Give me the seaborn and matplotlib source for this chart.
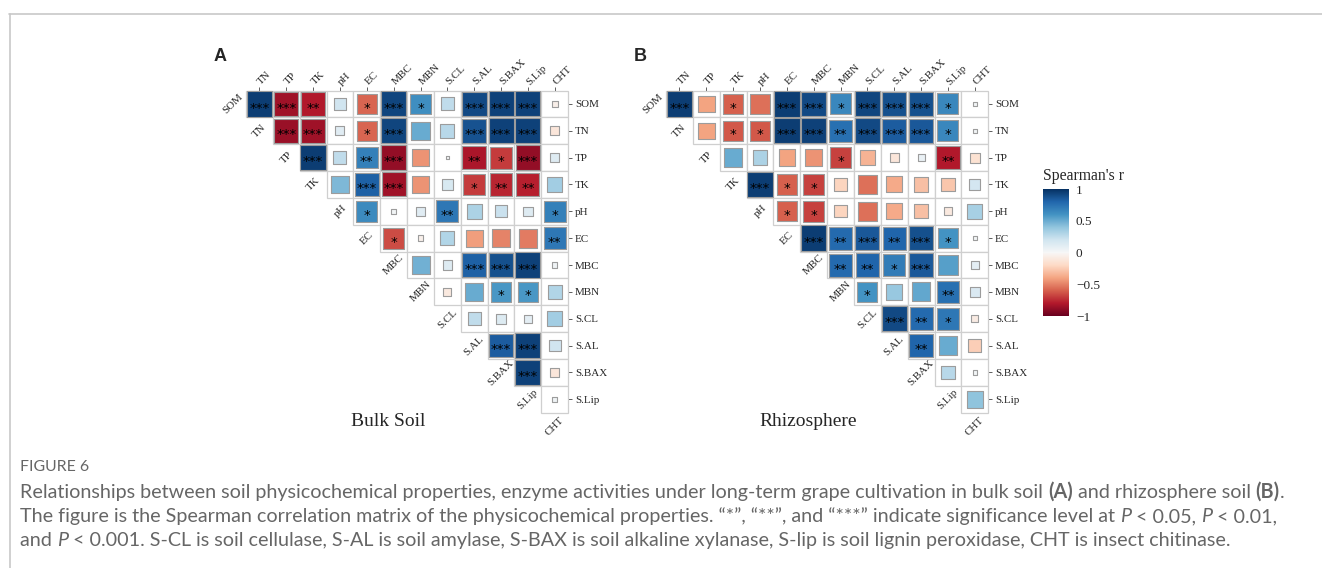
import numpy as np
import pandas as pd
import matplotlib
matplotlib.use("Agg")
import matplotlib.pyplot as plt
import seaborn as sns
from matplotlib.patches import Rectangle
from matplotlib.colors import Normalize
from matplotlib.cm import ScalarMappable
from matplotlib import font_manager

# ---------------- data ----------------
variables = ["SOM", "TN", "TP", "TK", "pH", "EC", "MBC", "MBN",
             "S.CL", "S.AL", "S.BAX", "S.Lip", "CHT"]

# row i: Spearman r of variables[i] with variables[i+1:]
bulk_r = [
    [0.95, -0.85, -0.80, 0.20, -0.58, 0.92, 0.62, 0.25, 0.90, 0.93, 0.93, -0.06],
    [-0.86, -0.85, 0.12, -0.58, 0.92, 0.50, 0.28, 0.87, 0.93, 0.93, -0.12],
    [0.95, 0.25, 0.68, -0.88, -0.45, 0.01, -0.82, -0.70, -0.88, 0.13],
    [0.45, 0.82, -0.85, -0.45, 0.16, -0.70, -0.76, -0.78, 0.35],
    [0.64, 0.03, 0.12, 0.72, 0.32, 0.22, 0.13, 0.68],
    [-0.65, -0.05, 0.30, -0.42, -0.50, -0.52, 0.72],
    [0.48, 0.13, 0.82, 0.88, 0.93, 0.04],
    [-0.10, 0.50, 0.58, 0.58, 0.30],
    [0.25, 0.14, 0.10, 0.35],
    [0.83, 0.93, 0.20],
    [0.93, -0.12],
    [0.04],
]
bulk_sig = [
    ["***", "***", "**", "", "*", "***", "*", "", "***", "***", "***", ""],
    ["***", "***", "", "*", "***", "", "", "***", "***", "***", ""],
    ["***", "", "**", "***", "", "", "**", "*", "***", ""],
    ["", "***", "***", "", "", "*", "**", "**", ""],
    ["*", "", "", "**", "", "", "", "*"],
    ["*", "", "", "", "", "", "**"],
    ["", "", "***", "***", "***", ""],
    ["", "", "*", "*", ""],
    ["", "", "", ""],
    ["***", "***", ""],
    ["***", ""],
    [""],
]

rhizo_r = [
    [0.95, -0.40, -0.60, -0.55, 0.95, 0.90, 0.65, 0.92, 0.88, 0.88, 0.65, 0.03],
    [-0.40, -0.62, -0.62, 0.95, 0.93, 0.75, 0.90, 0.83, 0.85, 0.65, 0.03],
    [0.50, 0.32, -0.40, -0.45, -0.68, -0.35, -0.12, 0.07, -0.80, -0.15],
    [0.95, -0.60, -0.68, -0.22, -0.55, -0.38, -0.30, -0.28, 0.18],
    [-0.60, -0.68, -0.22, -0.55, -0.38, -0.30, -0.10, 0.33],
    [0.95, 0.78, 0.85, 0.80, 0.88, 0.60, 0.03],
    [0.78, 0.80, 0.70, 0.85, 0.55, 0.10],
    [0.60, 0.38, 0.52, 0.75, 0.15],
    [0.90, 0.78, 0.72, -0.08],
    [0.80, 0.50, -0.25],
    [0.28, 0.03],
    [0.40],
]
rhizo_sig = [
    ["***", "", "*", "", "***", "***", "*", "***", "***", "***", "*", ""],
    ["", "*", "*", "***", "***", "**", "***", "***", "***", "*", ""],
    ["", "", "", "", "*", "", "", "", "**", ""],
    ["***", "*", "*", "", "", "", "", "", ""],
    ["*", "*", "", "", "", "", "", ""],
    ["***", "**", "***", "**", "***", "*", ""],
    ["**", "**", "*", "***", "", ""],
    ["*", "", "", "**", ""],
    ["***", "**", "*", ""],
    ["**", "", ""],
    ["", ""],
    [""],
]

panel_titles = ["Bulk Soil", "Rhizosphere"]
panel_letters = ["A", "B"]
cbar_ticks = [-1, -0.5, 0, 0.5, 1]
cbar_ticklabels = ["\u22121", "\u22120.5", "0", "0.5", "1"]

# ---------------- style ----------------
sns.set_style("white")
plt.rcParams["font.family"] = ["Liberation Serif", "DejaVu Serif"]

W, H = 1322, 568
fig = plt.figure(figsize=(W / 100, H / 100), dpi=100)


def px_axes(x0, y0, x1, y1):
    return fig.add_axes([x0 / W, 1 - y1 / H, (x1 - x0) / W, (y1 - y0) / H])


CELL = 26.85
TOP = 90.5
LEFTS = [246, 666]
LABEL_FS = 7.9
n = len(variables) - 1


def draw_panel(ax, r_rows, sig_rows):
    recs = []
    for i, (rr, ss) in enumerate(zip(r_rows, sig_rows)):
        for k, (r, s) in enumerate(zip(rr, ss)):
            recs.append({"x": i + k + 0.5, "y": i + 0.5, "r": r, "absr": abs(r), "sig": s})
    df = pd.DataFrame(recs)
    # grid cells
    for i in range(n):
        for j in range(i, n):
            ax.add_patch(Rectangle((j, i), 1, 1, facecolor="white", edgecolor="#cfcfcf",
                                   lw=0.9, zorder=1, clip_on=False))
    cell_pt = CELL * 72 / 100
    sns.scatterplot(data=df, x="x", y="y", hue="r", size="absr", palette="RdBu",
                    hue_norm=(-1, 1), size_norm=(0, 1), sizes=(0, (cell_pt - 0.6) ** 2),
                    marker="s", edgecolor="#9c9c9c", linewidth=0.8, legend=False,
                    ax=ax, zorder=3, clip_on=False)
    dy = 7.6 / CELL
    for _, row in df[df["sig"] != ""].iterrows():
        ax.text(row["x"], row["y"] + dy, row["sig"], ha="center", va="baseline",
                fontsize=9.6, family="DejaVu Sans", color="black", zorder=4)
    ax.set_xlim(0, n)
    ax.set_ylim(n, 0)
    ax.set_xlabel("")
    ax.set_ylabel("")
    for sp in ax.spines.values():
        sp.set_visible(False)
    ax.set_xticks(np.arange(n) + 0.5)
    ax.set_xticklabels(variables[1:])
    ax.set_yticks(np.arange(n) + 0.5)
    ax.set_yticklabels(variables[:-1])
    ax.xaxis.tick_top()
    ax.yaxis.tick_right()
    ax.tick_params(axis="both", length=3, width=0.6, color="#444444",
                   labelsize=LABEL_FS, pad=2)
    for lab in ax.get_xticklabels():
        lab.set_rotation(45)
        lab.set_ha("left")
        lab.set_va("center")
        lab.set_rotation_mode("anchor")
    # diagonal labels
    for i, v in enumerate(variables):
        ax.text(i - 0.5, i + 0.5, v, rotation=45, ha="center", va="center",
                rotation_mode="anchor", fontsize=LABEL_FS)


for p in range(2):
    left = LEFTS[p]
    ax = px_axes(left, TOP, left + n * CELL, TOP + n * CELL)
    draw_panel(ax, [bulk_r, rhizo_r][p], [bulk_sig, rhizo_sig][p])
    cx = left + 142
    fig.text(cx / W, 1 - 421 / H, panel_titles[p], fontsize=14, ha="center", va="center")
    fig.text((left - 32) / W, 1 - 56.5 / H, panel_letters[p], fontsize=13,
             fontweight="bold", family=["Liberation Sans", "DejaVu Sans"],
             ha="left", va="center")

# colorbar
cax = px_axes(1043, 189, 1069, 316)
cb = fig.colorbar(ScalarMappable(norm=Normalize(-1, 1), cmap="RdBu"), cax=cax)
cb.outline.set_visible(False)
cb.set_ticks(cbar_ticks)
cb.set_ticklabels(cbar_ticklabels)
cax.yaxis.set_ticks_position("both")
cax.tick_params(direction="in", length=2.5, width=0.8, color="white",
                labelsize=9.5, pad=5, labelleft=False, labelright=True)
fig.text(1043 / W, 1 - 180 / H, "Spearman's r", fontsize=11.3, ha="left", va="baseline")

# frame lines
fig.add_artist(plt.Line2D([9 / W, 1], [1 - 13.5 / H, 1 - 13.5 / H], color="#c8c8c8", lw=1.2))
fig.add_artist(plt.Line2D([9.5 / W, 9.5 / W], [0, 1 - 13.5 / H], color="#c8c8c8", lw=1.2))

# caption
fonts = font_manager.fontManager.ttflist
names = {f.name for f in fonts}
cap_family = "Liberation Sans"
for cand in ["Liberation Sans Narrow", "Lato", "Roboto", "Liberation Sans"]:
    if cand in names:
        cap_family = cand
        break


def has_bold(fam):
    for f in fonts:
        if f.name == fam and f.style == "normal":
            w = f.weight if isinstance(f.weight, int) else font_manager.weight_dict.get(f.weight, 400)
            if w >= 600:
                return True
    return False


bold_family = cap_family if has_bold(cap_family) else "Liberation Sans"
cap_color = "#666666"
renderer = fig.canvas.get_renderer()


def run_props(k):
    fam = bold_family if k == "b" else cap_family
    return (fam, "bold" if k == "b" else "normal", "italic" if k == "i" else "normal")


def text_width(s, size, fam, weight, style):
    t1 = fig.text(0, 0, "|" + s + "|", fontsize=size, family=fam, fontweight=weight, fontstyle=style)
    t2 = fig.text(0, 0, "||", fontsize=size, family=fam, fontweight=weight, fontstyle=style)
    w = t1.get_window_extent(renderer).width - t2.get_window_extent(renderer).width
    t1.remove()
    t2.remove()
    return w


line1 = [("Relationships between soil physicochemical properties, enzyme activities under long-term grape cultivation in bulk soil ", "n"),
         ("(A)", "b"), (" and rhizosphere soil ", "n"), ("(B)", "b"), (".", "n")]
line2 = [("The figure is the Spearman correlation matrix of the physicochemical properties. \u201c*\u201d, \u201c**\u201d, and \u201c***\u201d indicate significance level at ", "n"),
         ("P", "i"), (" < 0.05, ", "n"), ("P", "i"), (" < 0.01,", "n")]
line3 = [("and ", "n"), ("P", "i"), (" < 0.001. S-CL is soil cellulase, S-AL is soil amylase, S-BAX is soil alkaline xylanase, S-lip is soil lignin peroxidase, CHT is insect chitinase.", "n")]


def line_width(runs, size):
    return sum(text_width(s, size, *run_props(k)) for s, k in runs)


base = 10.0
cap_size = base * 1270 / line_width(line1, base)


def draw_line(runs, x_px, y_px, size):
    x = x_px
    for s, k in runs:
        fam, wgt, sty = run_props(k)
        fig.text(x / W, 1 - y_px / H, s, fontsize=size, family=fam, fontweight=wgt,
                 fontstyle=sty, color=cap_color, ha="left", va="baseline")
        x += text_width(s, size, fam, wgt, sty)


fig.text(20 / W, 1 - 471 / H, "FIGURE 6", fontsize=cap_size * 0.8, family=cap_family,
         color=cap_color, ha="left", va="baseline")
draw_line(line1, 20, 498, cap_size)
draw_line(line2, 20, 522, cap_size)
draw_line(line3, 20, 546, cap_size)

fig.savefig("out.png", dpi=100)
